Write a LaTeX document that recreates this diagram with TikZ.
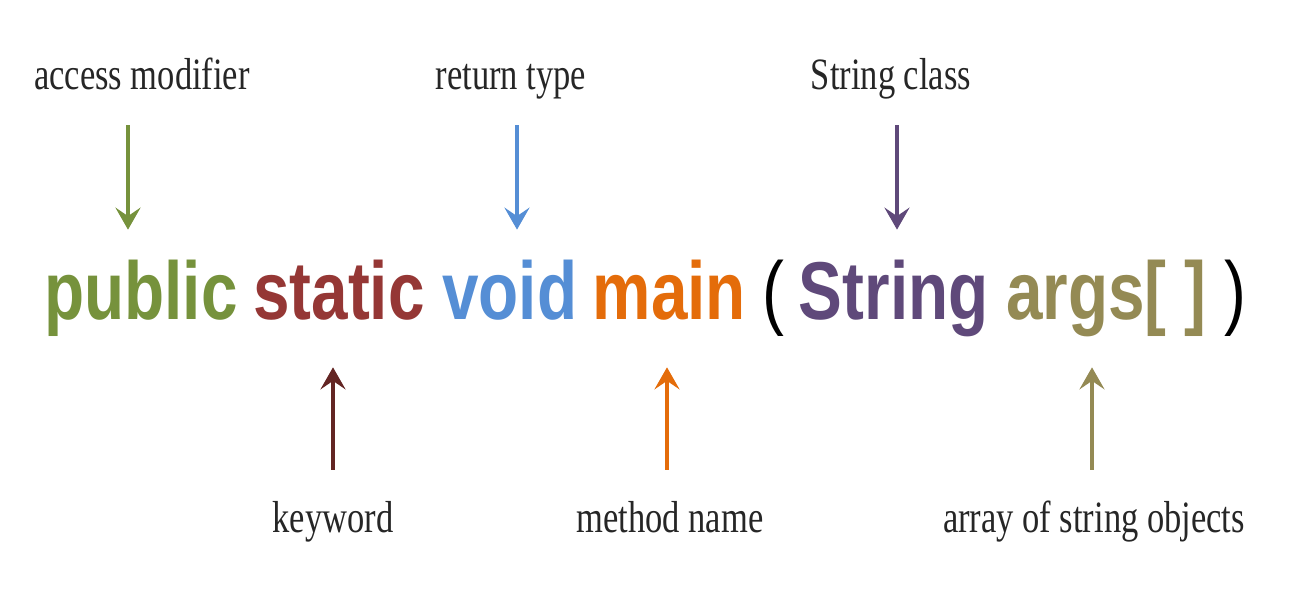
\documentclass[tikz,border=0pt]{standalone}
\usepackage{fontspec}
\setmainfont{Liberation Serif}
\newfontfamily\codefont{Liberation Sans}
\usetikzlibrary{arrows.meta,positioning}
\definecolor{pubgreen}{RGB}{118,146,60}
\definecolor{statred}{RGB}{149,55,53}
\definecolor{voidblue}{RGB}{85,142,213}
\definecolor{mainorange}{RGB}{228,108,10}
\definecolor{strpurple}{RGB}{95,73,122}
\definecolor{argstan}{RGB}{148,138,84}
\definecolor{kwbrown}{RGB}{99,37,35}

\begin{document}
\begin{tikzpicture}[
  lbl/.style={inner sep=0pt,text height=0.62cm,text depth=0.18cm,xscale=0.77,anchor=base,
    text=black!85,font=\fontsize{25.5}{30}\selectfont},
  code/.style={inner sep=0pt,text height=1.16cm,text depth=0.36cm,xscale=0.80,anchor=base west,
    font=\codefont\bfseries\fontsize{46.7}{56}\selectfont},
  arr/.style={-{Stealth[length=0.44cm,width=0.50cm,inset=0.17cm]},line width=0.09cm},
  downarr/.style={arr,shorten <=0.52cm,shorten >=0.64cm},
  uparr/.style={arr,shorten <=0.64cm,shorten >=0.58cm}]
  \useasboundingbox (0,0) rectangle (25.88,-11.96);
  % the signature
  \node[code,text=pubgreen] (public) at (0.88,-6.40) {public};
  \node[code,text=statred] (static) at ([xshift=0.30cm]public.base east) {static};
  \node[code,text=voidblue] (void) at ([xshift=0.34cm]static.base east) {void};
  \node[code,text=mainorange] (main) at ([xshift=0.30cm]void.base east) {main};
  \node[code,font=\codefont\fontsize{46.7}{56}\selectfont] (lpar) at ([xshift=0.32cm]main.base east) {(};
  \node[code,text=strpurple] (string) at ([xshift=0.28cm]lpar.base east) {String};
  \node[code,text=argstan] (args) at ([xshift=0.34cm]string.base east) {args[ ]};
  \node[code,font=\codefont\fontsize{46.7}{56}\selectfont] (rpar) at ([xshift=0.34cm]args.base east) {)};
  % labels
  \node[lbl] (accmod) at (2.84,-1.80) {access modifier};
  \node[lbl] (rettype) at (10.22,-1.80) {return type};
  \node[lbl] (strclass) at (17.82,-1.80) {String class};
  \node[lbl] (keyword) at (6.66,-10.66) {keyword};
  \node[lbl] (methname) at (13.40,-10.66) {method name};
  \node[lbl] (arrobj) at (21.88,-10.66) {array of string objects};
  % arrows
  \coordinate (a1) at (2.56,0);
  \coordinate (a2) at (10.34,0);
  \coordinate (a3) at (17.94,0);
  \coordinate (b1) at (6.66,0);
  \coordinate (b2) at (13.34,0);
  \coordinate (b3) at (21.84,0);
  \draw[downarr,pubgreen] (accmod.south -| a1) -- (public.north -| a1);
  \draw[downarr,voidblue] (rettype.south -| a2) -- (void.north -| a2);
  \draw[downarr,strpurple] (strclass.south -| a3) -- (string.north -| a3);
  \draw[uparr,kwbrown] (keyword.north -| b1) -- (static.south -| b1);
  \draw[uparr,mainorange] (methname.north -| b2) -- (main.south -| b2);
  \draw[uparr,argstan] (arrobj.north -| b3) -- (args.south -| b3);
\end{tikzpicture}
\end{document}
